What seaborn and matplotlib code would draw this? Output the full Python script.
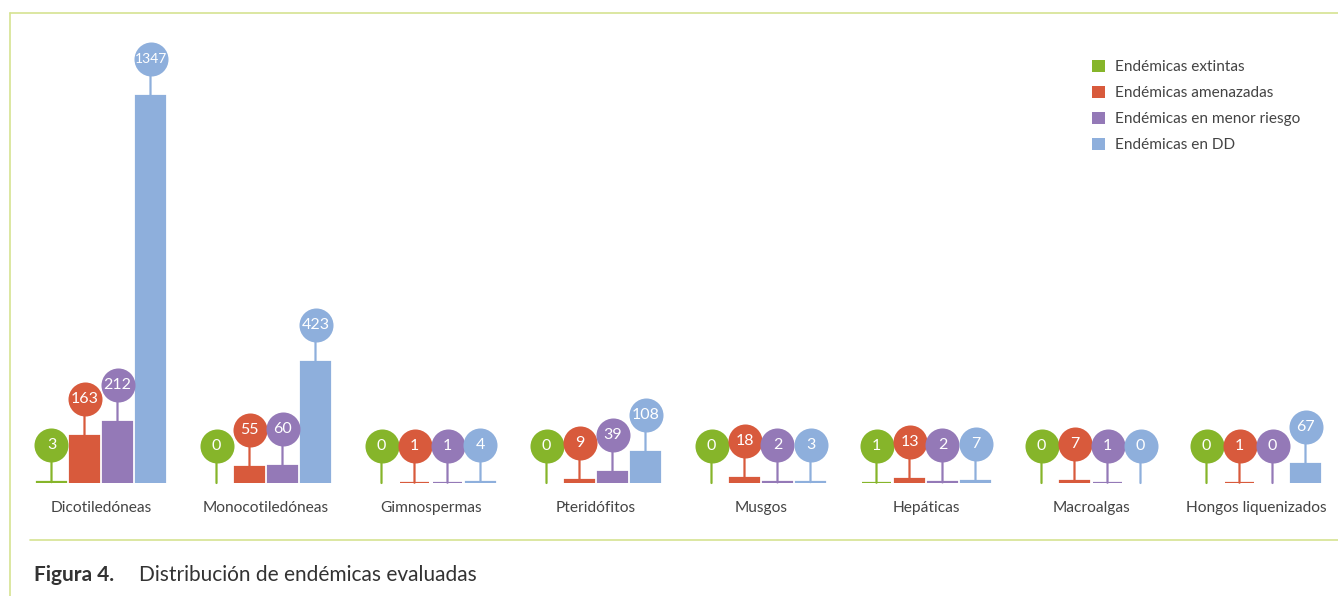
import matplotlib
matplotlib.use("Agg")
import matplotlib.pyplot as plt
import matplotlib.transforms as mtransforms
from matplotlib.patches import Patch
from matplotlib.lines import Line2D
import pandas as pd
import seaborn as sns

# --- data -------------------------------------------------------------
categories = ["Dicotiledóneas", "Monocotiledóneas", "Gimnospermas", "Pteridófitos",
              "Musgos", "Hepáticas", "Macroalgas", "Hongos liquenizados"]
series = ["Endémicas extintas", "Endémicas amenazadas",
          "Endémicas en menor riesgo", "Endémicas en DD"]
extintas = [3, 0, 0, 0, 0, 1, 0, 0]
amenazadas = [163, 55, 1, 9, 18, 13, 7, 1]
menor_riesgo = [212, 60, 1, 39, 2, 2, 1, 0]
en_dd = [1347, 423, 4, 108, 3, 7, 0, 67]
colors = ["#86b52a", "#d85a3c", "#9479b7", "#8eafdc"]

values_by_series = [extintas, amenazadas, menor_riesgo, en_dd]
df = pd.DataFrame({
    "grupo": [c for _ in series for c in categories],
    "serie": [s for s in series for _ in categories],
    "n": [v for vals in values_by_series for v in vals],
})

# --- figure -----------------------------------------------------------
W, H, DPI = 1338, 596, 100
sns.set_theme(style="white")
plt.rcParams["font.family"] = ["Lato", "DejaVu Sans"]
fig = plt.figure(figsize=(W / DPI, H / DPI), dpi=DPI)
ax = fig.add_axes([18.5 / W, 113 / H, 1320 / W, 463 / H])

sns.barplot(data=df, x="grupo", y="n", hue="serie", order=categories,
            hue_order=series, palette=colors, width=0.8, gap=0.1,
            saturation=1, legend=False, ax=ax)

ax.set_xlim(-0.5, len(categories) - 0.5)
ax.set_ylim(0, 1612.8)
ax.set_xlabel("")
ax.set_ylabel("")
ax.set_yticks([])
ax.tick_params(axis="x", length=0, pad=13, labelsize=11.2, labelcolor="#444444")
for sp in ax.spines.values():
    sp.set_visible(False)

# value badges: circle floating above each bar, joined by a stem
lift = 37 / DPI
badge_tr = ax.transData + mtransforms.ScaledTranslation(0, lift, fig.dpi_scale_trans)
for color, cont in zip(colors, ax.containers):
    for bar in cont.patches:
        h = bar.get_height()
        if h > 0:
            bar.set_edgecolor(color)
            bar.set_linewidth(1.6)
        else:
            bar.set_linewidth(0)
        xc = bar.get_x() + bar.get_width() / 2
        ax.annotate("", xy=(xc, h), xytext=(0, lift * 72), textcoords="offset points",
                    arrowprops=dict(arrowstyle="-", color=color, lw=1.6,
                                    shrinkA=0, shrinkB=0), zorder=3)
        ax.plot([xc], [h], marker="o", markersize=24.5, color=color,
                markeredgewidth=0, transform=badge_tr, zorder=4, clip_on=False)
        label = f"{int(h)}"
        ax.text(xc, h, label, transform=badge_tr, ha="center", va="center",
                color="white", fontsize=10 if len(label) > 3 else 11.5,
                zorder=5, clip_on=False)

# legend
handles = [Patch(facecolor=c, edgecolor="none", label=s) for c, s in zip(colors, series)]
fig.legend(handles=handles, loc="upper left", bbox_to_anchor=(1086 / W, 1 - 54 / H),
           frameon=False, fontsize=11.1, labelcolor="#444444", handlelength=0.8,
           handleheight=0.8, handletextpad=0.65, labelspacing=0.76, borderaxespad=0)

# frame lines and caption
frame_c = "#d6e391"
fig.add_artist(Line2D([10 / W, 10 / W], [0, 1 - 13 / H], color=frame_c, lw=1.2))
fig.add_artist(Line2D([10 / W, 1], [1 - 13 / H, 1 - 13 / H], color=frame_c, lw=1.2))
fig.add_artist(Line2D([30 / W, 1], [1 - 540 / H, 1 - 540 / H], color=frame_c, lw=1.2))
fig.text(34 / W, 1 - 575 / H, "Figura 4.", fontsize=15, fontweight="bold",
         color="#333333", va="center", ha="left")
fig.text(139 / W, 1 - 575 / H, "Distribución de endémicas evaluadas", fontsize=15,
         color="#333333", va="center", ha="left")

fig.savefig("out.png", dpi=DPI)
